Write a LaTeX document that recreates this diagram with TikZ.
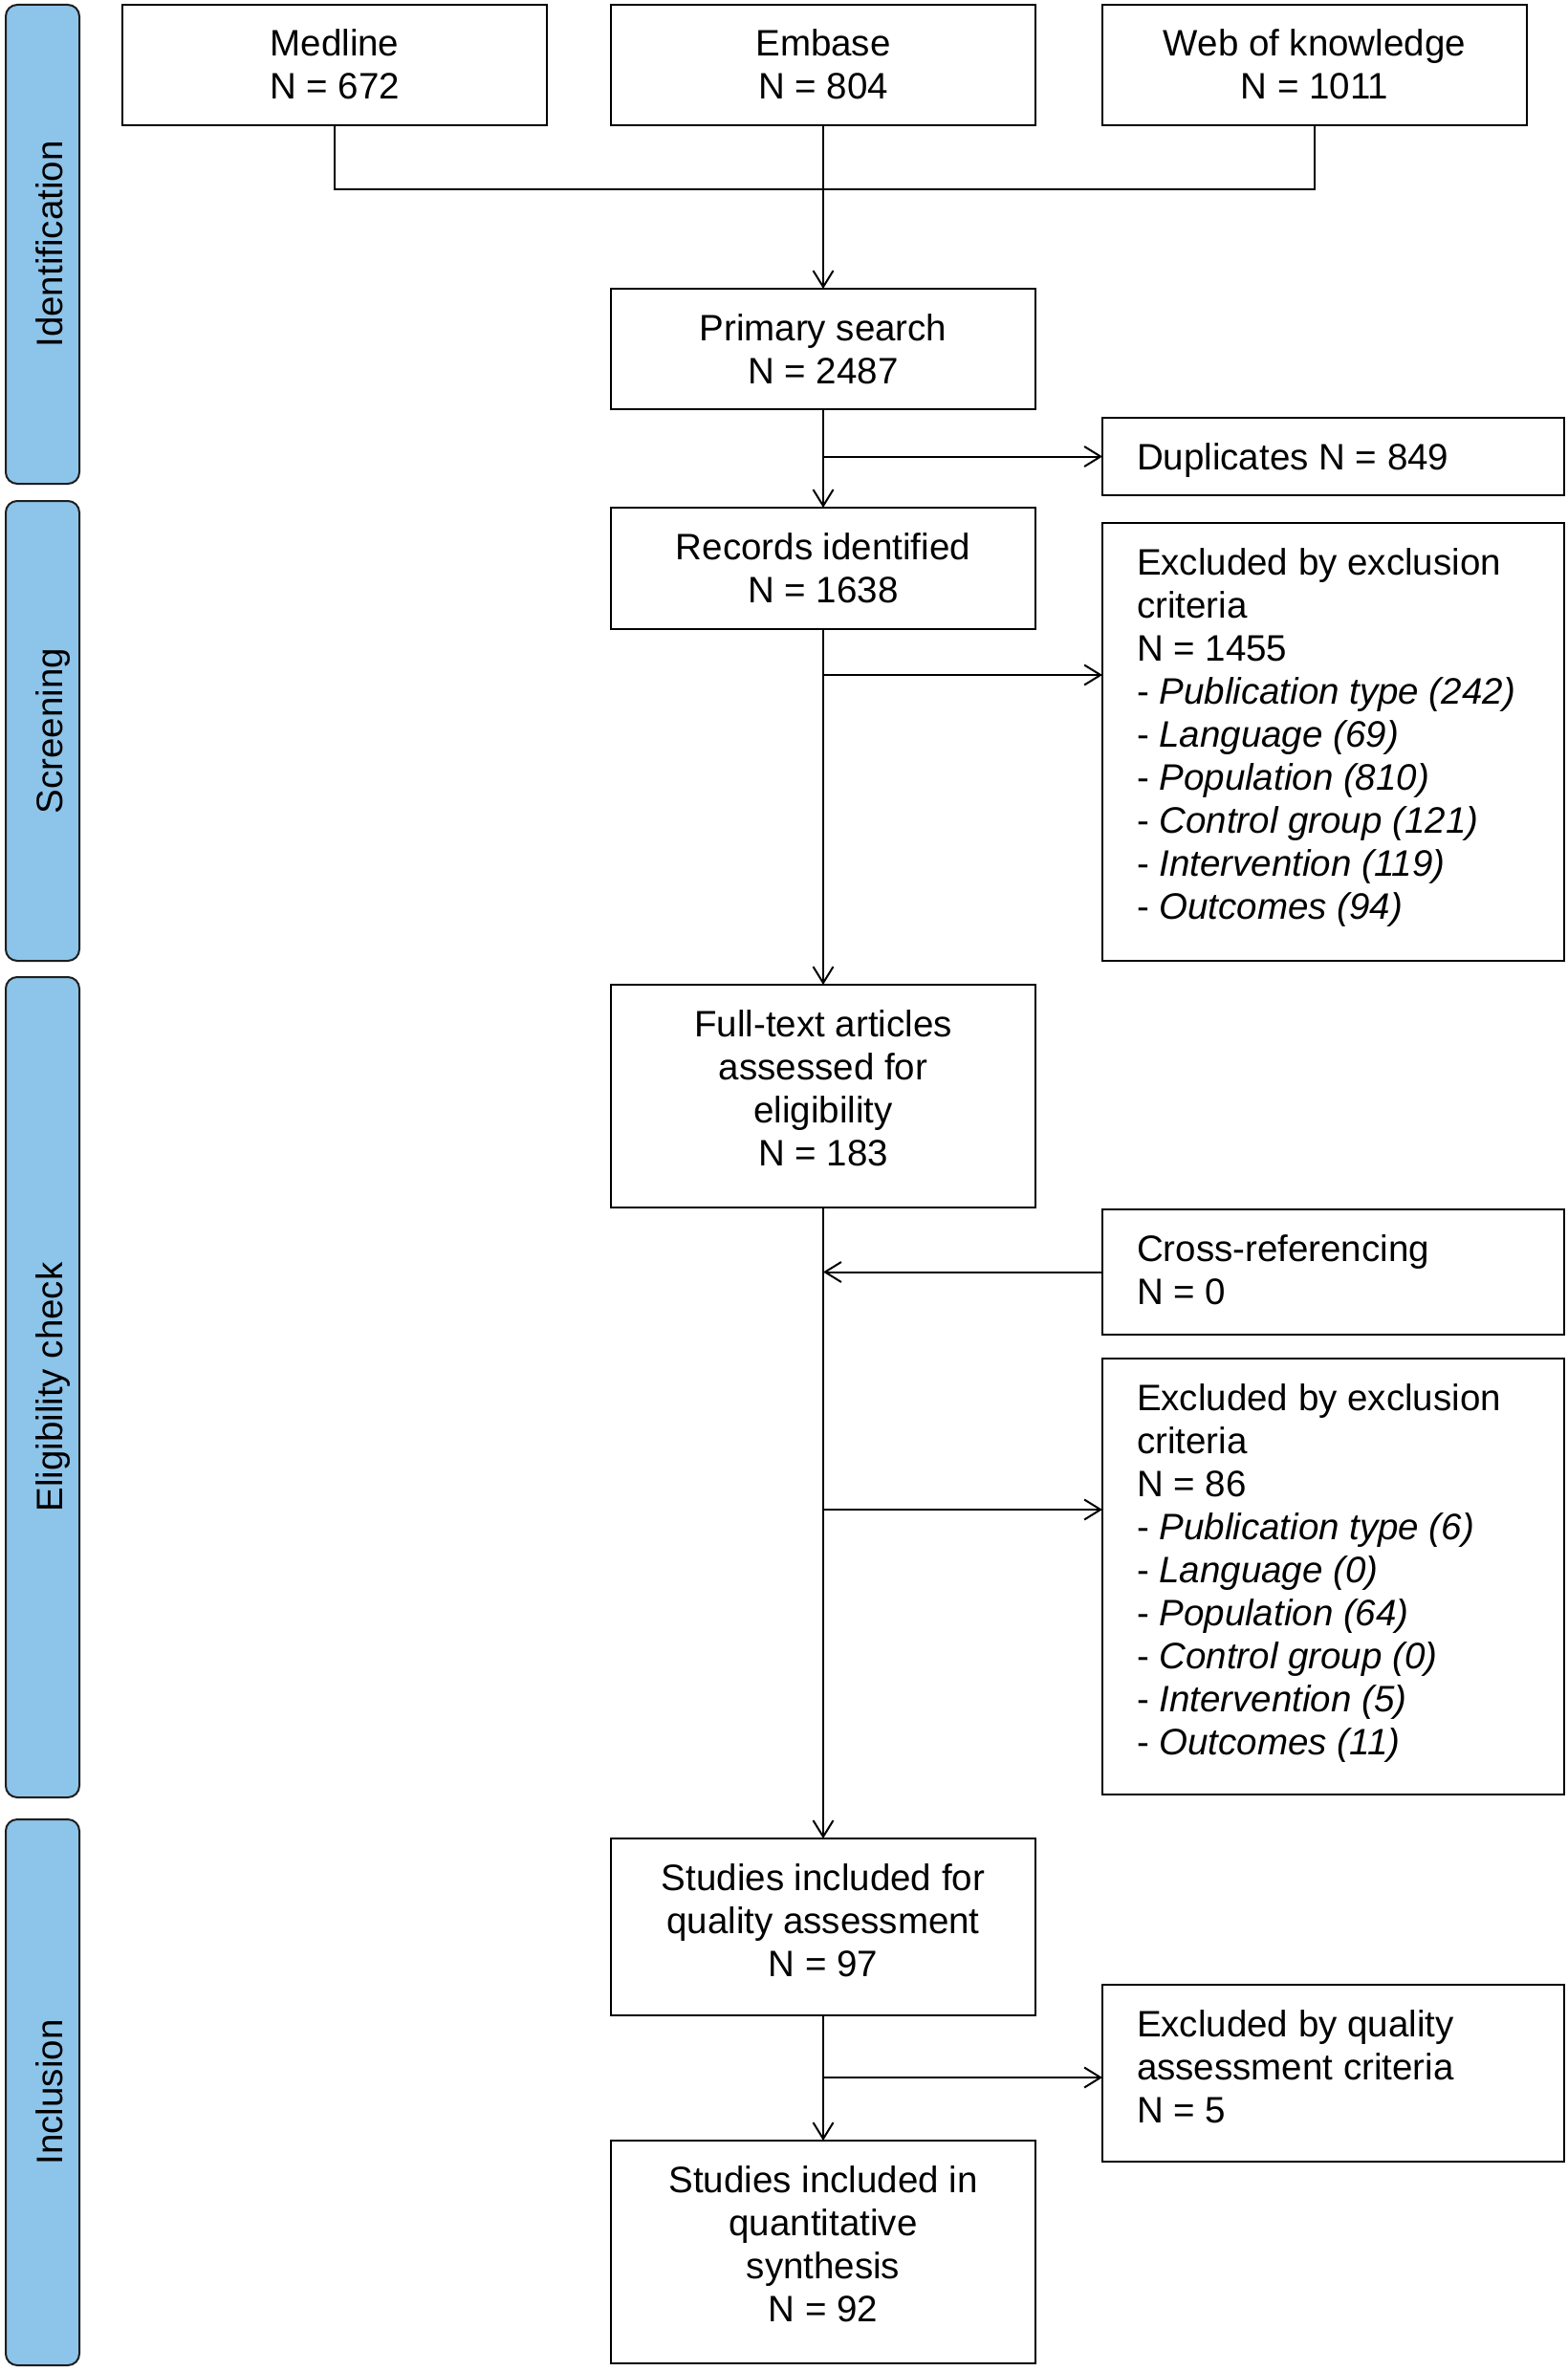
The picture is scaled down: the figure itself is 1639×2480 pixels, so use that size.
\documentclass[tikz,border=0pt]{standalone}
\usepackage{fontspec}
\setmainfont{Liberation Sans}
\usetikzlibrary{arrows.meta}
\definecolor{barblue}{RGB}{141,196,234}
\definecolor{barline}{RGB}{30,30,30}
\newcommand{\cbx}[3]{\parbox[c][#2][t]{#1}{\centering\rule{0pt}{54pt}#3}}
\newcommand{\lbx}[3]{\parbox[c][#2][t]{#1}{\raggedright\leftskip=36pt\rule{0pt}{54pt}#3}}
\begin{document}
\begin{tikzpicture}[x=1pt,y=-1pt,
  every node/.style={font=\fontsize{38.5pt}{45pt}\selectfont},
  box/.style={draw=black,line width=2.5pt,inner sep=0pt,outer sep=0pt},
  bar/.style={draw=barline,fill=barblue,line width=2pt,rounded corners=12pt,inner sep=0pt,minimum width=77pt},
  lab/.style={rotate=90,anchor=base,inner sep=0pt},
  conn/.style={line width=2pt},
  arr/.style={conn,-{Straight Barb[length=17pt,width=21pt]}}]
\useasboundingbox (0,0) rectangle (1639,2480);
% phase bars
\node[bar,minimum height=501pt] (bid) at (44.5,255.5) {};
\node[lab] (lid) at (65,255.5) {Identification};
\node[bar,minimum height=481pt] (bsc) at (44.5,764.5) {};
\node[lab] (lsc) at (65,764.5) {Screening};
\node[bar,minimum height=858pt] (bel) at (44.5,1451) {};
\node[lab] (lel) at (65,1451) {Eligibility check};
\node[bar,minimum height=571pt] (bin) at (44.5,2188.5) {};
\node[lab] (lin) at (65,2188.5) {Inclusion};
% boxes
\node[box] (med) at (350,68) {\cbx{444pt}{126pt}{Medline\\N = 672}};
\node[box] (emb) at (861,68) {\cbx{444pt}{126pt}{Embase\\N = 804}};
\node[box] (wok) at (1375,68) {\cbx{444pt}{126pt}{Web of knowledge\\N = 1011}};
\node[box] (prim) at (861,365) {\cbx{444pt}{126pt}{Primary search\\N = 2487}};
\node[box] (dup) at (1394.5,477.5) {\lbx{483pt}{81pt}{Duplicates N = 849}};
\node[box] (rec) at (861,594.5) {\cbx{444pt}{127pt}{Records identified\\N = 1638}};
\node[box] (ex1) at (1394.5,776) {\lbx{483pt}{458pt}{Excluded by exclusion\\criteria\\N = 1455\\- \textit{Publication type (242)}\\- \textit{Language (69)}\\- \textit{Population (810)}\\- \textit{Control group (121)}\\- \textit{Intervention (119)}\\- \textit{Outcomes (94)}}};
\node[box] (full) at (861,1146.5) {\cbx{444pt}{233pt}{Full-text articles\\assessed for\\eligibility\\N = 183}};
\node[box] (cross) at (1394.5,1330.5) {\lbx{483pt}{131pt}{Cross-referencing\\N = 0}};
\node[box] (ex2) at (1394.5,1649) {\lbx{483pt}{456pt}{Excluded by exclusion\\criteria\\N = 86\\- \textit{Publication type (6)}\\- \textit{Language (0)}\\- \textit{Population (64)}\\- \textit{Control group (0)}\\- \textit{Intervention (5)}\\- \textit{Outcomes (11)}}};
\node[box] (qual) at (861,2015.5) {\cbx{444pt}{185pt}{Studies included for\\quality assessment\\N = 97}};
\node[box] (exq) at (1394.5,2168.5) {\lbx{483pt}{185pt}{Excluded by quality\\assessment criteria\\N = 5}};
\node[box] (fin) at (861,2355.5) {\cbx{444pt}{233pt}{Studies included in\\quantitative\\synthesis\\N = 92}};
% connectors
\coordinate (jn) at (861,198);
\draw[conn] (med.south) |- (jn) -| (wok.south);
\draw[arr] (emb.south) -- (prim.north);
\draw[arr] (prim.south) -- (rec.north);
\draw[arr] (prim.south |- dup.west) -- (dup.west);
\draw[arr] (rec.south) -- (full.north);
\coordinate (b1) at (861,706);
\draw[arr] (b1) -- (b1 -| ex1.west);
\draw[arr] (cross.west) -- (cross.west -| full.south);
\draw[arr] (full.south) -- (qual.north);
\coordinate (b2) at (861,1579);
\draw[arr] (b2) -- (b2 -| ex2.west);
\draw[arr] (qual.south) -- (fin.north);
\coordinate (b3) at (861,2173);
\draw[arr] (b3) -- (b3 -| exq.west);
\end{tikzpicture}
\end{document}
